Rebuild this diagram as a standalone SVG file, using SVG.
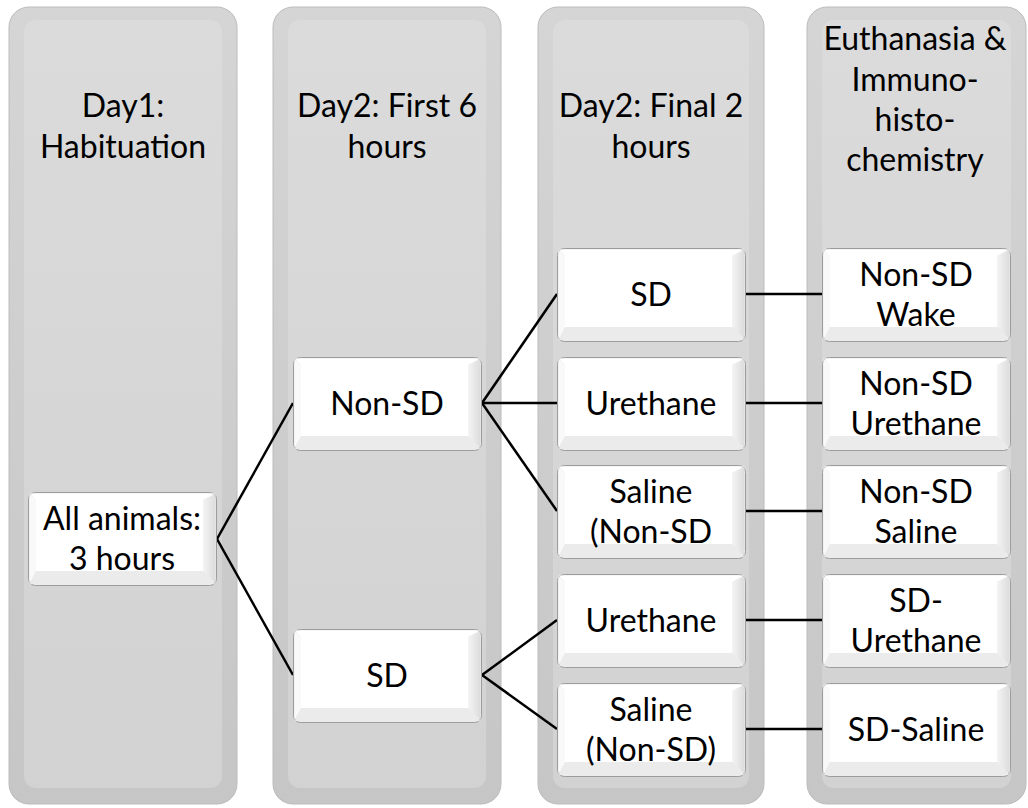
<svg xmlns="http://www.w3.org/2000/svg" xmlns:xlink="http://www.w3.org/1999/xlink" width="1028" height="808" viewBox="0 0 1028 808">
<style>
text{font-family:Lato,"Liberation Sans",sans-serif;font-size:32px;fill:#000;text-anchor:middle}
.conn{stroke:#000;stroke-width:2.5;fill:none}
.col-outer{fill:url(#colG);stroke:#bcbcbc;stroke-width:1}
.col-inner{fill:url(#colI)}
</style>
<defs>
<linearGradient id="colG" x1="0" y1="0" x2="0" y2="1">
<stop offset="0" stop-color="#d5d5d5"/><stop offset="1" stop-color="#c6c6c6"/>
</linearGradient>
<linearGradient id="colI" x1="0" y1="0" x2="0" y2="1">
<stop offset="0" stop-color="#dbdbdb"/><stop offset="1" stop-color="#d2d2d2"/>
</linearGradient>
<linearGradient id="rb" x1="0" y1="0" x2="1" y2="0">
<stop offset="0" stop-color="#f4f4f4"/><stop offset="1" stop-color="#dcdcdc"/>
</linearGradient>
<g id="btn">
<rect x="0.5" y="0.5" width="188" height="93" rx="7" fill="#ececec" stroke="#9c9c9c" stroke-width="1"/>
<polygon points="2,1.5 187,1.5 175,8 8,8" fill="#ffffff"/>
<polygon points="1.5,2 8,8 8,79 1.5,91" fill="#f9f9f9"/>
<polygon points="187.5,2 175,8 175,79 187.5,91" fill="url(#rb)"/>
<polygon points="2,92 8,79 175,79 187,92" fill="#ebebeb"/>
<rect x="8" y="8" width="167" height="71" fill="#ffffff"/>
</g>
</defs>
<rect width="1028" height="808" fill="#ffffff"/>
<g id="col1">
<rect class="col-outer" x="9" y="7" width="228" height="797" rx="20"/>
<rect class="col-inner" x="24" y="20" width="198" height="768" rx="12"/>
<text x="123" y="117">Day1:</text>
<text x="123" y="158">Habituation</text>
</g>
<g id="col2">
<rect class="col-outer" x="273" y="7" width="228" height="797" rx="20"/>
<rect class="col-inner" x="288" y="20" width="198" height="768" rx="12"/>
<text x="387" y="117">Day2: First 6</text>
<text x="387" y="158">hours</text>
</g>
<g id="col3">
<rect class="col-outer" x="538" y="7" width="226" height="797" rx="20"/>
<rect class="col-inner" x="553" y="20" width="196" height="768" rx="12"/>
<text x="651" y="117">Day2: Final 2</text>
<text x="651" y="158">hours</text>
</g>
<g id="col4">
<rect class="col-outer" x="807" y="7" width="219" height="797" rx="20"/>
<rect class="col-inner" x="822" y="20" width="189" height="768" rx="12"/>
<text x="915" y="50">Euthanasia &amp;</text>
<text x="915" y="91">Immuno-</text>
<text x="915" y="131">histo-</text>
<text x="915" y="171">chemistry</text>
</g>
<g id="connectors">
<line class="conn" x1="217" y1="539" x2="293" y2="403"/>
<line class="conn" x1="217" y1="539" x2="293" y2="675"/>
<line class="conn" x1="482" y1="403" x2="557" y2="294"/>
<line class="conn" x1="482" y1="403" x2="557" y2="403"/>
<line class="conn" x1="482" y1="403" x2="557" y2="511"/>
<line class="conn" x1="482" y1="675" x2="557" y2="620"/>
<line class="conn" x1="482" y1="675" x2="557" y2="729"/>
<line class="conn" x1="745" y1="294" x2="822" y2="294"/>
<line class="conn" x1="745" y1="403" x2="822" y2="403"/>
<line class="conn" x1="745" y1="511" x2="822" y2="511"/>
<line class="conn" x1="745" y1="620" x2="822" y2="620"/>
<line class="conn" x1="745" y1="729" x2="822" y2="729"/>
</g>
<g id="n-all"><use xlink:href="#btn" x="28" y="492"/><text x="122" y="530">All animals:</text><text x="122" y="570">3 hours</text></g>
<g id="n-nonsd"><use xlink:href="#btn" x="293" y="357"/><text x="387" y="415">Non-SD</text></g>
<g id="n-sd"><use xlink:href="#btn" x="293" y="629"/><text x="387" y="687">SD</text></g>
<g id="n-c3-sd"><use xlink:href="#btn" x="557" y="248"/><text x="651" y="306">SD</text></g>
<g id="n-c3-ureth1"><use xlink:href="#btn" x="557" y="357"/><text x="651" y="415">Urethane</text></g>
<g id="n-c3-saline1"><use xlink:href="#btn" x="557" y="465"/><text x="651" y="503">Saline</text><text x="651" y="543">(Non-SD</text></g>
<g id="n-c3-ureth2"><use xlink:href="#btn" x="557" y="574"/><text x="651" y="632">Urethane</text></g>
<g id="n-c3-saline2"><use xlink:href="#btn" x="557" y="683"/><text x="651" y="721">Saline</text><text x="651" y="761">(Non-SD)</text></g>
<g id="n-c4-wake"><use xlink:href="#btn" x="822" y="248"/><text x="916" y="286">Non-SD</text><text x="916" y="326">Wake</text></g>
<g id="n-c4-ureth"><use xlink:href="#btn" x="822" y="357"/><text x="916" y="395">Non-SD</text><text x="916" y="435">Urethane</text></g>
<g id="n-c4-saline"><use xlink:href="#btn" x="822" y="465"/><text x="916" y="503">Non-SD</text><text x="916" y="543">Saline</text></g>
<g id="n-c4-sdureth"><use xlink:href="#btn" x="822" y="574"/><text x="916" y="612">SD-</text><text x="916" y="652">Urethane</text></g>
<g id="n-c4-sdsaline"><use xlink:href="#btn" x="822" y="683"/><text x="916" y="741">SD-Saline</text></g>
</svg>
